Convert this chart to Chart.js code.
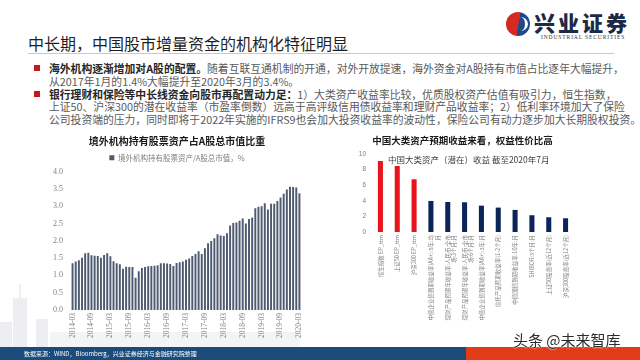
<!DOCTYPE html>
<html><head><meta charset="utf-8">
<script src="https://cdn.jsdelivr.net/npm/chart.js@4.4.0/dist/chart.umd.min.js"></script>
<style>
html,body{margin:0;padding:0;width:640px;height:360px;overflow:hidden;background:#fff;font-family:"Noto Sans CJK SC",sans-serif;}
.abs{position:absolute;white-space:nowrap;}
.sky{position:absolute;background:#eceef1;}
.line{position:absolute;left:49px;font-size:10.8px;line-height:13px;color:#595959;white-space:nowrap;}
.line b{color:#262626;font-weight:bold;}
.sq{position:absolute;left:34px;width:6px;height:6px;background:#c8161d;}
</style></head><body>
<!-- decorative skyline -->
<div class="sky" style="left:0;top:322px;width:12px;height:26px"></div>
<div class="sky" style="left:13px;top:298px;width:14px;height:50px"></div>
<div class="sky" style="left:19px;top:284px;width:2px;height:14px"></div>
<div class="sky" style="left:36px;top:319px;width:12px;height:29px"></div>
<div class="sky" style="left:50px;top:332px;width:250px;height:16px;background:#f3f4f6"></div>

<!-- header -->
<div class="abs" style="left:28px;top:33px;font-size:16px;line-height:20px;color:#1f1f1f;">中长期，中国股市增量资金的机构化特征明显</div>
<div class="abs" style="left:28px;top:53px;width:586px;height:1px;background:#c9c9c9"></div>
<div class="abs" style="left:506px;top:12px;width:24px;height:24px;border-radius:50%;background:linear-gradient(100deg,#d52a22 52%,#1e4a8c 52%);"></div>
<div class="abs" style="left:513px;top:17px;width:9px;height:14px;border-radius:50%;border-right:3px solid #fff;border-left:3px solid transparent;"></div>
<div class="abs" style="left:534px;top:9px;font-size:21px;line-height:26px;font-weight:900;color:#1c2a48;letter-spacing:3px;">兴业证券</div>
<div class="abs" style="left:541px;top:34px;font-size:5.5px;line-height:7px;color:#333;letter-spacing:0.9px;font-family:'Liberation Serif',serif;">INDUSTRIAL SECURITIES</div>

<!-- bullets -->
<div class="sq" style="top:65px"></div>
<div class="line" style="top:61.5px"><b>海外机构逐渐增加对A股的配置。</b>随着互联互通机制的开通，对外开放提速，海外资金对A股持有市值占比逐年大幅提升，</div>
<div class="line" style="top:74.5px">从2017年1月的1.4%大幅提升至2020年3月的3.4%。</div>
<div class="sq" style="top:91px"></div>
<div class="line" style="top:87.5px"><b>银行理财和保险等中长线资金向股市再配置动力足：</b>1）大类资产收益率比较，优质股权资产估值有吸引力，恒生指数，</div>
<div class="line" style="top:100px">上证50、沪深300的潜在收益率（市盈率倒数）远高于高评级信用债收益率和理财产品收益率；2）低利率环境加大了保险</div>
<div class="line" style="top:112.5px">公司投资端的压力，同时即将于2022年实施的IFRS9也会加大投资收益率的波动性，保险公司有动力逐步加大长期股权投资。</div>

<canvas id="c1" width="320" height="215" style="position:absolute;left:0;top:130px;"></canvas>
<canvas id="c2" width="320" height="215" style="position:absolute;left:320px;top:130px;"></canvas>
<div class="abs" style="left:388px;top:153px;font-size:8.5px;line-height:12px;color:#404040;">中国大类资产（潜在）收益 截至2020年7月</div>

<!-- footer -->
<div class="abs" style="left:0;top:347px;width:466px;height:13px;background:#1b4b7b"></div>
<div class="abs" style="left:466px;top:347px;width:174px;height:13px;background:#e23b17"></div>
<div class="abs" style="left:24px;top:349px;font-size:6px;line-height:9px;color:#fff;">数据来源：WIND，Bloomberg，兴业证券经济与金融研究院整理</div>
<div class="abs" style="left:513px;top:330px;font-size:15px;line-height:19px;color:#2b2b2b;text-shadow:0 0 2px #fff,0 0 2px #fff;">头条 @未来智库</div>

<script>
const CJK = '"Noto Sans CJK SC", sans-serif';
const SERIF = '"Liberation Serif", "DejaVu Serif", serif';

// ---- left chart data ----
const leftTitle = '境外机构持有股票资产占A股总市值比重';
const foreignLegend = '境外机构持有股票资产/A股总市值，%';
const firstMonth = [2014, 3];
const tickEvery = 6;
const foreignShare = [
  1.35, 1.40, 1.44, 1.51, 1.64, 1.65, 1.58, 1.57, 1.56, 1.51,
  1.59, 1.64, 1.55, 1.41, 1.35, 1.32, 1.19, 1.25, 1.24, 1.24,
  0.93, 1.12, 1.21, 1.24, 1.26, 1.27, 1.28, 1.29, 1.35, 1.35,
  1.34, 1.33, 1.27, 1.36, 1.38,
  1.40, 1.45, 1.49, 1.56, 1.62, 1.70, 1.62, 1.78, 1.93, 1.99,
  2.07, 2.19, 2.15, 2.14, 2.22, 2.44, 2.51, 2.53, 2.58, 2.64,
  2.50, 2.63, 2.67, 2.94, 2.98, 3.00, 3.08, 2.90, 3.07, 3.07,
  3.15, 3.25, 3.36, 3.48, 3.56, 3.55, 3.54, 3.37
];
const months = [];
for (let i = 0; i < foreignShare.length; i++) {
  const t = firstMonth[1] - 1 + i;
  months.push((firstMonth[0] + Math.floor(t / 12)) + '-' + String(t % 12 + 1).padStart(2, '0'));
}

// ---- right chart data ----
const rightTitle = '中国大类资产预期收益来看，权益性价比高';
const assetLabels = [
  '恒生指数 EP_ttm',
  '上证50 EP_ttm',
  '沪深300 EP_ttm',
  ['中债企业债到期收益率(AA+):5年:均', '月'],
  ['理财产品预期年收益率:人民币:全市', '场:3个月:月'],
  ['理财产品预期年收益率:人民币:全市', '场:6个月:月'],
  '中债企业债到期收益率(AA+):3年:月',
  '信托产品预期收益率(1-2个月)',
  '中债国债到期收益率:10年:月',
  'SHIBOR:3个月:月',
  '上证50股息率(近12个月)',
  '沪深300股息率(近12个月)'
];
const assetYield = [9.1, 8.46, 6.76, 3.98, 3.85, 3.81, 3.38, 3.13, 2.83, 2.15, 1.89, 1.76];
const isEquity = [true, true, true, false, false, false, false, false, false, false, false, false];

new Chart(document.getElementById('c1'), {
  type: 'bar',
  data: { labels: months, datasets: [{ label: foreignLegend, data: foreignShare, backgroundColor: '#4e5a71', barPercentage: 0.62, categoryPercentage: 1 }] },
  options: {
    responsive: false, animation: false,
    layout: { padding: { left: 53, right: 19, top: 0, bottom: 0 } },
    plugins: {
      title: { display: true, text: leftTitle, color: '#1a1a1a', font: { family: CJK, size: 10, weight: 'bold' }, padding: { top: 5, bottom: 3 } },
      legend: { display: true, labels: { color: '#808080', font: { family: CJK, size: 7.5 }, boxWidth: 5, boxHeight: 5, padding: 4 } },
      tooltip: { enabled: false }
    },
    scales: {
      x: {
        grid: { display: false, drawTicks: false }, border: { display: false },
        ticks: { autoSkip: false, maxRotation: 90, minRotation: 90, padding: 3, color: '#808080', font: { family: SERIF, size: 7.5 },
          callback: (v, i) => (i % tickEvery === 0 ? months[i] : '') },
        afterFit: s => { s.height = 35; }
      },
      y: {
        min: 0, max: 4,
        grid: { display: false, drawTicks: false }, border: { display: false },
        ticks: { stepSize: 0.5, padding: 8, color: '#808080', font: { family: SERIF, size: 8 }, callback: v => Number(v).toFixed(1) },
        afterFit: s => { s.width = 18; }
      }
    }
  }
});

new Chart(document.getElementById('c2'), {
  type: 'bar',
  data: { labels: assetLabels, datasets: [{ label: '收益', data: assetYield,
    backgroundColor: isEquity.map(e => e ? '#e8131b' : '#0b2559'), barPercentage: 0.3, categoryPercentage: 1 }] },
  options: {
    responsive: false, animation: false,
    layout: { padding: { left: 31, right: 66, top: 0, bottom: 0 } },
    plugins: {
      title: { display: true, text: rightTitle, color: '#1a1a1a', font: { family: CJK, size: 9.5, weight: 'bold' }, padding: { top: 4.3, bottom: 8.3 } },
      legend: { display: false },
      tooltip: { enabled: false }
    },
    scales: {
      x: {
        grid: { display: false, drawTicks: false }, border: { display: false },
        ticks: { autoSkip: false, maxRotation: 90, minRotation: 90, padding: 3, color: '#7f7f7f', font: { family: CJK, size: 5.5 } },
        afterFit: s => { s.height = 113; }
      },
      y: {
        min: 0, max: 10,
        grid: { display: false, drawTicks: false }, border: { display: false },
        ticks: { stepSize: 1, padding: 6, color: '#7f7f7f', font: { family: '"Liberation Sans", sans-serif', size: 6.5 } },
        afterFit: s => { s.width = 21; }
      }
    }
  }
});
</script>
</body></html>
